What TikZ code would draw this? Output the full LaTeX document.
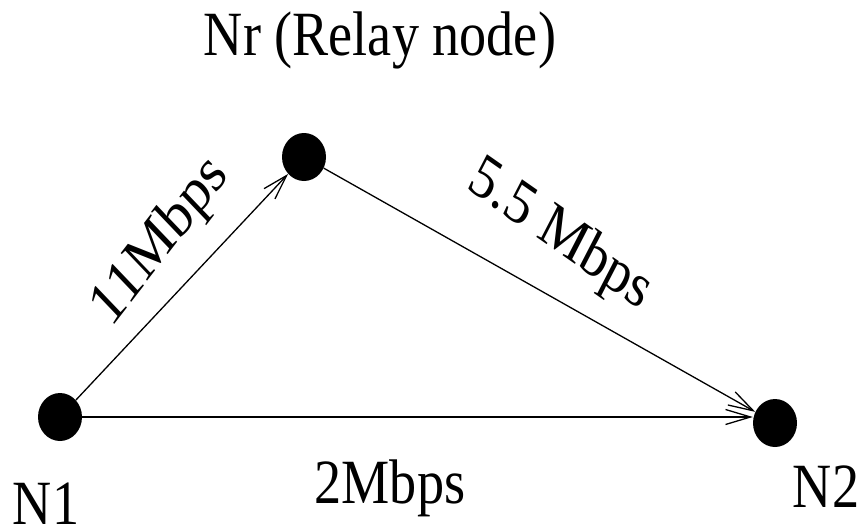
\documentclass[tikz,border=0pt]{standalone}
\usepackage{fontspec}
\newfontfamily\tms{Liberation Serif}
\usetikzlibrary{shapes.geometric,arrows.meta}
\begin{document}
\begin{tikzpicture}[x=1pt,y=-1pt,
  dot/.style={ellipse,fill=black,draw=none,minimum width=44pt,minimum height=48pt,inner sep=0pt},
  lbl/.style={font=\tms\fontsize{63}{75}\selectfont,xscale=0.86,inner sep=0pt},
  link/.style={line width=1.3pt,-{Straight Barb[length=25pt,width=15pt,line width=1.3pt]}}]
\useasboundingbox[fill=white] (0,0) rectangle (865,530);
\node[dot] (n1) at (60,417) {};
\node[dot] (nr) at (304,157) {};
\node[dot] (n2) at (775,423) {};
\coordinate (e2) at (n1.east -| n2.west);
\draw[link] (n1) -- (nr);
\draw[link] (nr) -- (n2);
\draw[link] (n1.east) -- (e2);
\node[lbl,anchor=base] (tnr) at (380,55) {Nr (Relay node)};
\node[lbl,anchor=base] (tn1) at (46,524) {N1};
\node[lbl,anchor=base] (tn2) at (826,507) {N2};
\node[lbl,anchor=base] (t2) at (390,503) {2Mbps};
\node[lbl,rotate=48] (t11) at (161,242) {11Mbps};
\node[lbl,rotate=-31] (t55) at (560,236) {5.5 Mbps};
\end{tikzpicture}
\end{document}
